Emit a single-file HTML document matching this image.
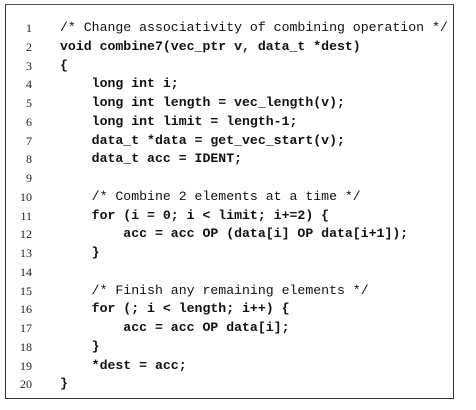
<!DOCTYPE html>
<html><head><meta charset="utf-8"><style>
html,body{margin:0;padding:0;background:#fff;width:476px;height:410px;overflow:hidden}
#box{position:absolute;left:5px;top:4px;width:447px;height:393px;border:1.5px solid #333;border-top-color:#555}
.ln{position:absolute;left:14px;width:18px;text-align:right;font-family:"Liberation Serif",serif;font-size:12px;color:#222}
.code{position:absolute;left:60px;font-family:"Liberation Mono",monospace;font-size:13.2px;color:#111;white-space:pre;font-weight:bold}
.cm{font-weight:normal}
</style></head><body>
<div id="box"></div>
<div id="lines"></div>
<script>
const code=[
["/* Change associativity of combining operation */",1],
["void combine7(vec_ptr v, data_t *dest)",0],
["{",0],
["    long int i;",0],
["    long int length = vec_length(v);",0],
["    long int limit = length-1;",0],
["    data_t *data = get_vec_start(v);",0],
["    data_t acc = IDENT;",0],
["",0],
["    /* Combine 2 elements at a time */",1],
["    for (i = 0; i < limit; i+=2) {",0],
["        acc = acc OP (data[i] OP data[i+1]);",0],
["    }",0],
["",0],
["    /* Finish any remaining elements */",1],
["    for (; i < length; i++) {",0],
["        acc = acc OP data[i];",0],
["    }",0],
["    *dest = acc;",0],
["}",0]];
const host=document.getElementById('lines');
code.forEach((c,i)=>{
  const y=20+i*18.75;
  const n=document.createElement('div');
  n.className='ln';n.style.top=(y+1)+'px';n.textContent=i+1;
  
  
  host.appendChild(n);
  const d=document.createElement('div');
  d.className='code'+(c[1]?' cm':'');d.style.top=y+'px';d.textContent=c[0];
  
  
  host.appendChild(d);
});
</script>
</body></html>
